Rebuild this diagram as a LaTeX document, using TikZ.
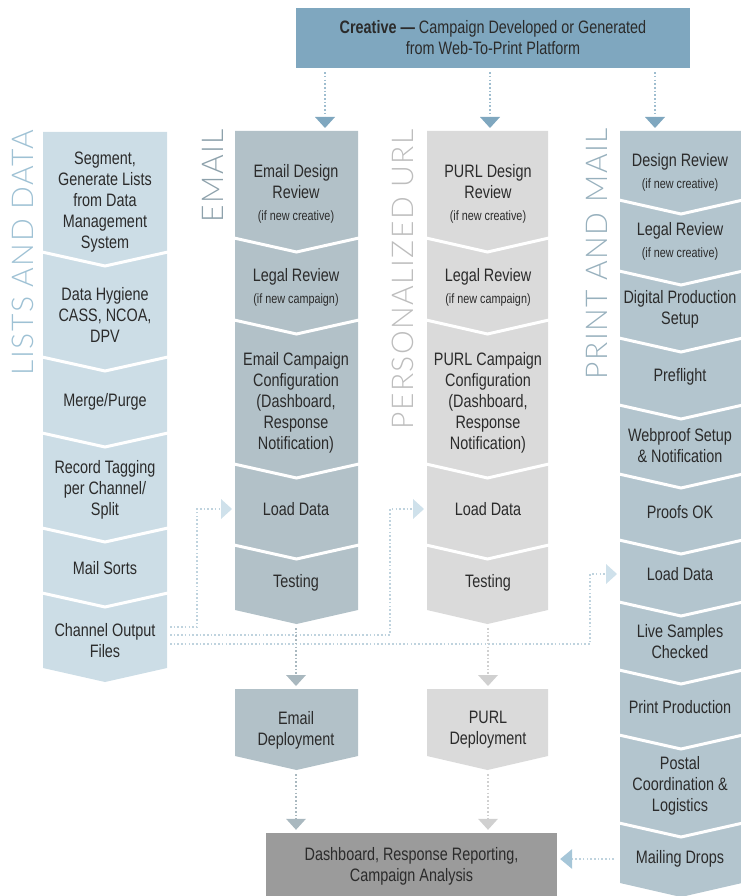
\documentclass[tikz,border=0pt]{standalone}
\usepackage{fontspec}
\setmainfont{Liberation Sans}[FakeStretch=0.8]
\newfontfamily\labelfont{Lato Light}[LetterSpace=5]
\usetikzlibrary{arrows.meta}
\definecolor{creativeblue}{HTML}{7FA7BF}
\definecolor{listsfill}{HTML}{CCDDE6}
\definecolor{emailfill}{HTML}{B2C1C8}
\definecolor{purlfill}{HTML}{DADADA}
\definecolor{printfill}{HTML}{B3C5CE}
\definecolor{dashfill}{HTML}{9B9B9B}
\definecolor{listslabel}{HTML}{9EC1D4}
\definecolor{emaillabel}{HTML}{8DA1AB}
\definecolor{purllabel}{HTML}{BDBDBD}
\definecolor{printlabel}{HTML}{97B0BD}
\definecolor{inktext}{HTML}{2B2B2B}
\definecolor{topdots}{HTML}{9EBDCF}
\definecolor{feeddots}{HTML}{BFD3DE}
\definecolor{feedhead}{HTML}{CFE1EB}
\definecolor{emaildots}{HTML}{A9B8BF}
\definecolor{purldots}{HTML}{D0D0D0}
\definecolor{dropshead}{HTML}{A6C6D8}
\tikzstyle{every node}=[text=inktext,font=\fontsize{18}{21}\selectfont]
\tikzstyle{stagetext}=[align=center,inner sep=0pt]
\tikzstyle{sidelabel}=[rotate=90,anchor=east,inner sep=0pt,font=\labelfont\fontsize{30}{30}\selectfont]
\tikzstyle{sepline}=[white,line width=3pt]
\tikzstyle{dotline}=[dash pattern=on 1.6pt off 2.1pt,line width=1.6pt,shorten <=4pt,shorten >=3pt]
\tikzstyle{creativearrow}=[dotline,topdots,-{Triangle[width=20pt,length=11pt,line width=0pt,color=creativeblue]}]
\tikzstyle{feedarrow}=[dotline,feeddots,shorten <=0pt,-{Triangle[width=20pt,length=11pt,line width=0pt,color=feedhead]}]
\tikzstyle{emailarrow}=[dotline,emaildots,-{Triangle[width=20pt,length=11pt,line width=0pt,color=emaildots]}]
\tikzstyle{purlarrow}=[dotline,purldots,-{Triangle[width=20pt,length=11pt,line width=0pt,color=purldots]}]
\tikzstyle{dropsarrow}=[dotline,feeddots,shorten <=6pt,-{Triangle[width=20pt,length=12pt,line width=0pt,color=dropshead]}]
\newcommand{\chevcol}[6]{%
  \fill[#5] (#1,#3) -- (#2,#3) -- (#2,#4) -- ({(#1+#2)/2},#4+14) -- (#1,#4) -- cycle;
  \foreach \s in {#6} \draw[sepline] (#1-1,\s) -- ({(#1+#2)/2},\s+14) -- (#2+1,\s);}
\newcommand{\ifnote}[1]{\\[1pt]{\fontsize{13.5}{15}\selectfont #1}}

\begin{document}
\begin{tikzpicture}[x=1pt,y=-1pt]
\useasboundingbox (0,0) rectangle (740,896);

\chevcol{43}{167}{132}{668}{listsfill}{252,357,433,528,593}
\chevcol{235}{358}{131}{610}{emailfill}{238,320,464,545}
\chevcol{427}{548}{131}{610}{purlfill}{238,320,464,545}
\chevcol{620}{742}{131}{883}{printfill}{200,271,338,405,474,540,602,670,735,823}
\chevcol{235}{358}{689}{756}{emailfill}{}
\chevcol{427}{548}{689}{756}{purlfill}{}

\node[sidelabel,text=listslabel] (llabel) at (22.5,130) {LISTS AND DATA};
\node[sidelabel,text=emaillabel] (elabel) at (213,129) {EMAIL};
\node[sidelabel,text=purllabel] (plabel) at (403,129) {PERSONALIZED URL};
\node[sidelabel,text=printlabel] (mlabel) at (597,128) {PRINT AND MAIL};

\node[fill=creativeblue,minimum width=394pt,minimum height=60pt,align=center] (creative) at (493,38)
  {\textbf{Creative ---} Campaign Developed or Generated\\from Web-To-Print Platform};

\node[stagetext] (lseg) at (105,202) {Segment,\\Generate Lists\\from Data\\Management\\System};
\node[stagetext] (lhyg) at (105,315) {Data Hygiene\\CASS, NCOA,\\DPV};
\node[stagetext] (lmerge) at (105,402) {Merge/Purge};
\node[stagetext] (ltag) at (105,490) {Record Tagging\\per Channel/\\Split};
\node[stagetext] (lsort) at (105,568) {Mail Sorts};
\node[stagetext] (lout) at (105,641) {Channel Output\\Files};

\node[stagetext] (edesign) at (296,194) {Email Design\\Review\ifnote{(if new creative)}};
\node[stagetext] (elegal) at (296,287) {Legal Review\ifnote{(if new campaign)}};
\node[stagetext] (econf) at (296,403) {Email Campaign\\Configuration\\(Dashboard,\\Response\\Notification)};
\node[stagetext] (eload) at (296,509) {Load Data};
\node[stagetext] (etest) at (296,583) {Testing};
\node[stagetext] (edep) at (296,730) {Email\\Deployment};

\node[stagetext] (pdesign) at (488,194) {PURL Design\\Review\ifnote{(if new creative)}};
\node[stagetext] (plegal) at (488,287) {Legal Review\ifnote{(if new campaign)}};
\node[stagetext] (pconf) at (488,403) {PURL Campaign\\Configuration\\(Dashboard,\\Response\\Notification)};
\node[stagetext] (pload) at (488,509) {Load Data};
\node[stagetext] (ptest) at (488,583) {Testing};
\node[stagetext] (pdep) at (488,730) {PURL\\Deployment};

\node[stagetext] (mdesign) at (680,172) {Design Review\ifnote{(if new creative)}};
\node[stagetext] (mlegal) at (680,241) {Legal Review\ifnote{(if new creative)}};
\node[stagetext] (mdigital) at (680,309) {Digital Production\\Setup};
\node[stagetext] (mpre) at (680,377) {Preflight};
\node[stagetext] (mweb) at (680,446) {Webproof Setup\\\& Notification};
\node[stagetext] (mproof) at (680,512) {Proofs OK};
\node[stagetext] (mload) at (680,574) {Load Data};
\node[stagetext] (mlive) at (680,642) {Live Samples\\Checked};
\node[stagetext] (mprint) at (680,707) {Print Production};
\node[stagetext] (mpostal) at (680,786) {Postal\\Coordination \&\\Logistics};
\node[stagetext] (mdrops) at (680,859) {Mailing Drops};

\node[fill=dashfill,minimum width=291pt,minimum height=66pt,align=center] (dash) at (411.5,866)
  {Dashboard, Response Reporting,\\Campaign Analysis};

\coordinate (etop) at (325,131);
\coordinate (ptop) at (490,131);
\coordinate (mtop) at (655,131);
\draw[creativearrow] (creative.south -| etop) -- (etop);
\draw[creativearrow] (creative.south -| ptop) -- (ptop);
\draw[creativearrow] (creative.south -| mtop) -- (mtop);

\coordinate (out1) at (170,627);
\coordinate (out2) at (170,635);
\coordinate (out3) at (170,644);
\coordinate (ebend) at (197,0);
\coordinate (pbend) at (390,0);
\coordinate (mbend) at (590,0);
\coordinate (eleft) at (235,0);
\coordinate (pleft) at (427,0);
\coordinate (mleft) at (620,0);
\draw[feedarrow] (out1) -| (ebend |- eload) -- (eleft |- eload);
\draw[feedarrow] (out2) -| (pbend |- pload) -- (pleft |- pload);
\draw[feedarrow] (out3) -| (mbend |- mload) -- (mleft |- mload);

\coordinate (ebot) at (296,624);
\coordinate (edeptop) at (296,689);
\coordinate (edepbot) at (296,770);
\coordinate (pbot) at (488,624);
\coordinate (pdeptop) at (488,689);
\coordinate (pdepbot) at (488,770);
\draw[emailarrow] (ebot) -- (edeptop);
\draw[emailarrow] (edepbot) -- (edepbot |- dash.north);
\draw[purlarrow] (pbot) -- (pdeptop);
\draw[purlarrow] (pdepbot) -- (pdepbot |- dash.north);

\draw[dropsarrow] (mleft |- mdrops) -- (dash.east |- mdrops);
\end{tikzpicture}
\end{document}
